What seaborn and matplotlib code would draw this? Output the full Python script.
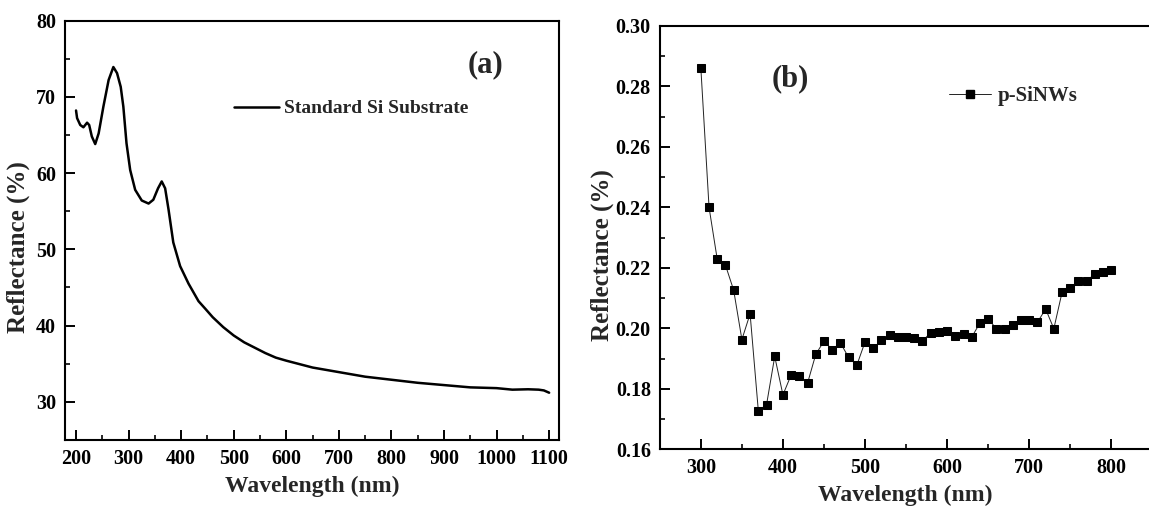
import numpy as np
import pandas as pd
import matplotlib
matplotlib.use("Agg")
import matplotlib.pyplot as plt
from matplotlib.ticker import MultipleLocator, FormatStrFormatter
from matplotlib.lines import Line2D
import seaborn as sns

# ---- Panel (a): Standard Si substrate ----
wl_a = [200, 202, 208, 214, 221, 225, 230, 236.5, 243, 252, 262, 271, 278, 285, 290,
        296, 303, 312.5, 325, 338, 347, 356, 363, 369.5, 376, 385, 398, 414, 433, 446,
        460, 480, 500, 520, 540, 560, 580, 600, 650, 700, 750, 800, 850, 900, 950,
        1000, 1030, 1060, 1080, 1090, 1100]
refl_a = [68.2, 67.2, 66.3, 66.0, 66.6, 66.3, 64.8, 63.8, 65.2, 68.7, 72.2, 73.9, 73.1, 71.3, 68.7,
          63.9, 60.4, 57.8, 56.4, 56.0, 56.5, 58.0, 58.9, 58.0, 55.2, 50.9, 47.8, 45.5, 43.2, 42.2,
          41.1, 39.8, 38.7, 37.8, 37.1, 36.4, 35.8, 35.4, 34.5, 33.9, 33.3, 32.9, 32.5, 32.2, 31.9,
          31.8, 31.6, 31.65, 31.6, 31.5, 31.2]

# ---- Panel (b): p-SiNWs ----
wl_b = list(range(300, 801, 10))
refl_b = [0.2861, 0.2400, 0.2228, 0.2209, 0.2126, 0.1963, 0.2048, 0.1728, 0.1747, 0.1907,
          0.1780, 0.1846, 0.1843, 0.1819, 0.1914, 0.1958, 0.1930, 0.1952, 0.1904, 0.1878,
          0.1955, 0.1935, 0.1960, 0.1977, 0.1973, 0.1970, 0.1967, 0.1958, 0.1986, 0.1988,
          0.1990, 0.1976, 0.1982, 0.1971, 0.2018, 0.2031, 0.1999, 0.1999, 0.2012, 0.2026,
          0.2029, 0.2020, 0.2064, 0.1999, 0.2119, 0.2133, 0.2158, 0.2156, 0.2181, 0.2186,
          0.2192]

label_a = "Standard Si Substrate"
label_b = "p-SiNWs"
xlabel = "Wavelength (nm)"
ylabel = "Reflectance (%)"

sns.set_theme(style="ticks")
plt.rcParams['font.family'] = ['Liberation Serif', 'DejaVu Serif']
plt.rcParams['font.weight'] = 'bold'
plt.rcParams['axes.labelweight'] = 'bold'

fig = plt.figure(figsize=(11.49, 5.07), dpi=100)
ax1 = fig.add_axes([65/1149, 67/507, (558.6-65)/1149, (440-20.5)/507])
ax2 = fig.add_axes([659.8/1149, (507-449.3)/507, (1150.7-659.8)/1149, (449.3-26)/507])

df_a = pd.DataFrame({"wl": wl_a, "r": refl_a})
df_b = pd.DataFrame({"wl": wl_b, "r": refl_b})

sns.lineplot(data=df_a, x="wl", y="r", ax=ax1, color="black", linewidth=1.8,
             sort=False, legend=False)
sns.lineplot(data=df_b, x="wl", y="r", ax=ax2, color="#222222", linewidth=0.7,
             marker="s", markersize=6.3, markeredgecolor="black", markerfacecolor="black",
             sort=False, legend=False)

tick_fs = 14.5
xlab_fs = 17
ylab_fs = 18

for ax in (ax1, ax2):
    for s in ax.spines.values():
        s.set_linewidth(1.5)
        s.set_color("black")
    ax.tick_params(which="major", direction="in", length=7, width=1.4, labelsize=tick_fs,
                   colors="black", pad=6.5)
    ax.tick_params(which="minor", direction="in", length=3.8, width=1.4)
    ax.set_xlabel(xlabel, fontsize=xlab_fs, fontweight="bold", labelpad=5)
    ax.set_ylabel(ylabel, fontsize=ylab_fs, fontweight="bold")

# Panel (a) axes
ax1.set_xlim(179, 1118)
ax1.set_ylim(25, 80)
ax1.xaxis.set_major_locator(MultipleLocator(100))
ax1.xaxis.set_minor_locator(MultipleLocator(50))
ax1.yaxis.set_major_locator(MultipleLocator(10))
ax1.yaxis.set_minor_locator(MultipleLocator(5))
ax1.yaxis.set_label_coords(-0.071, 0.46)
ax1.text(0.851, 0.895, "(a)", transform=ax1.transAxes, fontsize=22, fontweight="bold",
         ha="center", va="center")
h1 = Line2D([], [], color="black", linewidth=1.8)
ax1.legend([h1], [label_a], loc="center left", bbox_to_anchor=(0.342, 0.79),
           frameon=False, prop={"size": 14, "weight": "bold"}, handlelength=2.3,
           handletextpad=0.3, borderpad=0, borderaxespad=0)

# Panel (b) axes
ax2.set_xlim(250, 848)
ax2.set_ylim(0.16, 0.30)
ax2.spines["right"].set_visible(False)
ax2.xaxis.set_major_locator(MultipleLocator(100))
ax2.xaxis.set_minor_locator(MultipleLocator(50))
ax2.yaxis.set_major_locator(MultipleLocator(0.02))
ax2.yaxis.set_minor_locator(MultipleLocator(0.01))
ax2.yaxis.set_major_formatter(FormatStrFormatter("%.2f"))
ax2.yaxis.set_label_coords(-0.093, 0.46)
ax2.text(0.265, 0.875, "(b)", transform=ax2.transAxes, fontsize=22, fontweight="bold",
         ha="center", va="center")
h2 = Line2D([], [], color="#222222", linewidth=0.7, marker="s", markersize=6.3,
            markerfacecolor="black", markeredgecolor="black")
ax2.legend([h2], [label_b], loc="center left", bbox_to_anchor=(0.59, 0.835),
           frameon=False, prop={"size": 15, "weight": "bold"}, handlelength=2.0,
           handletextpad=0.3, borderpad=0, borderaxespad=0)

for ax in (ax1, ax2):
    for t in ax.get_xticklabels() + ax.get_yticklabels():
        t.set_fontweight("bold")

fig.savefig("out.png", dpi=100)
